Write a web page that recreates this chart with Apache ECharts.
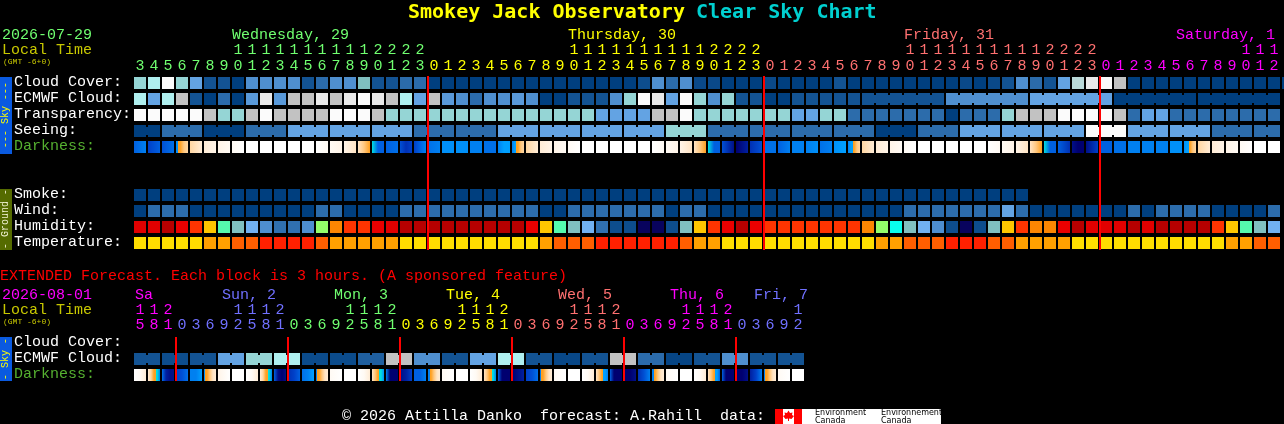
<!DOCTYPE html>
<html><head><meta charset="utf-8">
<style>html,body{margin:0;padding:0;background:#000}#c{width:1284px;height:424px}</style>
<script src="https://cdn.jsdelivr.net/npm/echarts@6/dist/echarts.min.js"></script>
</head><body><div id="c"></div>
<script>
// ---------- tick labels ----------
const skyUnits = '345678901234567890123012345678901234567890123012345678901234567890123' .split('').concat('0123456789012'.split(''));
const skyTens  = '       11111111112222          11111111112222          11111111112222          111'.split('');
const extUnits = '581036925810369258103692581036925810369258103692'.split('');
const extTens  = '112    1112    1112    1112    1112    1112    1'.split('');
const skyDayStarts = [0,21,45,69];
const skyDayColors = ['#70ff70','#ffff00','#ff7070','#ff00ff'];
const extDayStarts = [0,3,11,19,27,35,43];
const extDayColors = ['#ff00ff','#7070ff','#70ff70','#ffff00','#ff7070','#ff00ff','#7070ff'];
const skyRows = ['Cloud Cover:','ECMWF Cloud:','Transparency:','Seeing:','Darkness:'];
const groundRows = ['Smoke:','Wind:','Humidity:','Temperature:'];
const extRows = ['Cloud Cover:','ECMWF Cloud:','Darkness:'];
const skyMidnights = [21,45,69];
const extMidnights = [3,11,19,27,35,43];

// ---------- series values (palette levels) ----------
const cloudCover = [6,7,10,6,4,1,1,0,3,3,3,3,1,2,3,3,5,1,1,2,2,
  0,0,0,0,0,0,0,0,0,0,0,0,0,0,0,.7,3,2,3,.5,.5,0,0,0,.5,0,0,0,0,1,0,
  0,0,0,0,0,0,0,.5,0,.5,1,3,2,1,4,7.5,9,10,8,0,0,0,0,0,0,0,0,0,0,0,0];
const ecmwfCloud = [7,4,7,8,1,0,2,0,3.5,9,3.5,8,8,9,8,9,10,9,8,7,4,
  8,3.5,3,2,3,3,3.5,3,0,0,1,1,1,3,6,10,9,4,10,6,3,6,1,1,0,0,1,1,1,1,1,
  1,1,1,1,1,1,3,3,3,3,3,3,4,4,4,4,4,4,0,0,0,0,0,0,0,0,0,0,0,0];
const ecmwfBlocks = [1,1,1,1,1,1,1,1,1,1,1,1,1,1,1,1,1,1,1,1,1,1,1,1,1,1,1,1,1,1,1,1,1,1,1,1,1,1,1,1,1,1,1,1,1,1,1,1,1,1,1,1,6,6,6,6,6];
const transparency = [5,5,5,5,5,4,3,3,4,5,4,4,4,4,5,5,5,4,3,3,3,
  3,3,3,3,3,3,3,3,3,3,3,3,2,2,2,2,4,4,5,3,3,3,3,3,3,3,2,2,3,3,1,
  1,1,1,1,1,1,0,1,1,1,3,4,4,4,5,5,5,5,4,1,2,2,1,1,1,1,1,1,1,1];
const seeing = [0,0,1,1,1,0,0,0,1,1,1,2,2,2,2,2,2,2,2,2,1,
  1,1,1,1,1,2,2,2,2,2,2,2,2,2,2,2,2,3,3,3,1,1,1,1,1,1,1,1,1,1,1,
  1,0,0,0,1,1,1,2,2,2,2,2,2,2,2,2,5,5,5,2,2,2,2,2,2,1,1,1,1,1];
const seeingBlocks = [2,3,3,3,3,3,3,3,3,3,3,3,3,3,3,3,3,3,3,3,3,3,3,3,3,3,3,2];
const darkness = [
 [8,7],[9,8],[8.5,7.5],[6.5,4,3,2.5],[2.5,1.5],[1.5,1],[1,.5],[.5,0],[0,0],[0,0],[0,0],[0,0],[0,0],[0,.5],[.5,1],[1,2],[2,3,4],[5,8,8],[8,7.5],[8.5,9.5,9],[9,8,7],
 [7.5,7],[6.5,6.5],[6.5,6.5],[7,7],[7.5,7.5],[7,6,6],[7,6,4,3,2.5],[2.5,1.5],[1.5,1],[1,.5],[.5,0],[0,0],[0,0],[0,0],[0,0],[0,0],[0,.5],[.5,1],[1,2],[2,3,4],[5,8,8],[8.5,10.5],[11,10],[9.5,8.5],[7.5,7.5],[8,7],[7,7],[7,6.5],[7.5,7],[6.5,6],[7,6,4,3,2.5],
 [2.5,1.5],[1.5,1],[1,.5],[.5,0],[0,0],[0,0],[0,0],[0,0],[0,0],[0,.5],[.5,1],[1,2],[2,3,4],[5,8,8],[8,9.5],[10.5,11,11],[10.5,9],[8,8],[7.5,7.5],[7,7],[7,7],[7,7],[6.5,6.5],[6.5,6,4,3,2.5],[2.5,1.5],[1.5,1],[1,.5],[.5,0],[0,0],[0,0]
];
const smoke = [0,0,0,0,0,0,0,0,0,0,0,0,0,0,0,0,0,0,0,0,0,0,0,0,0,0,0,0,0,0,0,0,0,0,0,0,0,0,0,0,0,0,0,0,0,0,0,0,0,0,0,0,0,0,0,0,0,0,0,0,0,0,0,0];
const wind = [0,1,1,1,0,0,0,0,0,0,0,0,0,1,1,0,0,0,0,1,1,
  1,1,1,1,1,1,1,1,0,0,1,1,1,1,1,1,1,0,1,1,0,0,0,0,0,0,0,0,0,0,0,
  0,0,0,1,1,1,1,1,1,1,2,1,0,0,0,0,0,0,0,1,0,1,1,1,1,0,0,0,0,1];
const humidity = [15,15,14,13,12,10,7,5,4,3,2,2,3,8,11,12,12,13,15,14,14,
  14,14,14,14,14,14,14,13,10,7,5,4,2,1,1,0,0,1,5,10,12,13,14,13,12,12,12,12,12,12,12,
  11,8,6,5,4,3,1,0,1,5,10,12,11,11,13,14,15,15,15,14,15,14,14,14,14,12,10,7,5,4];
const temperature = [0,0,0,0,0,1,1,2,2,3,3,3,3,2,1,1,1,1,1,0,0,
  0,0,0,0,0,0,0,0,1,2,2,2,3,3,3,3,3,3,2,1,1,0,0,0,0,0,0,0,0,0,0,
  0,1,1,2,2,2,3,3,3,2,2,1,1,1,1,0,0,0,0,0,0,0,0,0,0,0,1,1,2,2];
const extCloud = [];
const extEcmwf = [1,1,.7,.7,1,1,4,4,6,6,7,7,.6,.6,.6,.6,1.5,1.5,8,8,3,3,1,1,4,4,7,7,1,1,.4,.4,1,1,8,8,2,2,.3,.3,1,1,3,3,1,1,1,1];
const extBlocks = [2,2,2,2,2,2,2,2,2,2,2,2,2,2,2,2,2,2,2,2,2,2,2,2];
const extDarkness = [
 [0,.5,1.5],[1.5,2.5,4,5,7],[7.5,10,10.5,10.5],[9,8.5,7.5],[7,7,6],[6.5,4,3,2,1.5],[1,0],[0,0],
 [0,.5,1.5],[1.5,2.5,4,5,7],[8,10.5,11,10.5],[9.5,9,8],[7.5,7,6],[7,4,3,2,1.5],[.5,0],[0,0],
 [0,.5,1.5],[2,3,4,5,6.5],[7,11,11,11],[10.5,10,9],[8,8,7],[7,4,3,2,1.5],[.5,0],[0,0],
 [0,.5,1.5],[2,3,4,5,7],[8,11,11,11],[11,10.5,10],[9,8.5,7.5],[7,4,3,2,1.5],[.5,0],[0,0],
 [0,.5,1.5],[2,3,4,6,7],[8,11,11,11],[11,11,10.5],[9.5,8.5,7],[7,4,3,2,1.5],[.5,0],[0,0],
 [0,.5,1.5],[2,3,4,6,8],[8,11,11,11],[11,11,10.5],[10,9,7],[7,4,3,2,1.5],[.5,0],[0,0]
];

// ---------- palettes ----------
const cloudPal = ['#003f7f','#135393','#2b6bab','#4f8fcf','#63a3e3','#7fbfbf','#95d5d5','#afefef','#c2c2c2','#e9e9e9','#fbfbfb'];
const ratePal  = ['#003f7f','#2c6cab','#63a3e3','#95d5d5','#c2c2c2','#fbfbfb'];
const humidPal = ['#08035d','#0d4d8d','#3070b0','#4e8ed0','#71b1f1','#80c0c0','#09feed','#55faad','#94fe6a','#eafb16','#fec600','#fc8602','#fe3401','#ea0000','#b70000','#e10000'];
const tempPal  = ['#ffdd00','#ffa000','#ff5e00','#ff2000'];
const darkPal  = ['#ffffff','#fff4e8','#ffe4c4','#ffc880','#ffa020','#00e0e0','#00a0ff','#0080f0','#0060e0','#0040c8','#0020a0','#000070'];

const mono = '"Liberation Mono"';
const lerp = (pal, v) => {
  const a = Math.floor(v), b = Math.min(pal.length - 1, a + 1);
  return a === v ? pal[a] : echarts.color.lerp(v - a, [pal[a], pal[b]]);
};
const linkFlags = blocks => {
  const out = [];
  blocks.forEach(n => { for (let k = 0; k < n; k++) out.push(k < n - 1 ? 1 : 0); });
  return out;
};
const cellRect = (api, i, r) => {
  const c = api.coord([i, r]), s = api.size([1, 1]);
  return { x: c[0] - s[0] / 2 + 1, y: c[1] - s[1] / 2 + 2, width: s[0] - 2, height: s[1] - 4 };
};
const cellSeries = (grid, row, values, pal, blocks) => {
  const links = blocks ? linkFlags(blocks) : [];
  return {
    type: 'custom', xAxisIndex: grid.x, yAxisIndex: grid.y, silent: true, animation: false,
    data: values.map((v, i) => [i, row, v, links[i] || 0]),
    renderItem: (p, api) => {
      const rect = cellRect(api, api.value(0), api.value(1));
      const fill = lerp(pal, api.value(2));
      const children = [{ type: 'rect', shape: rect, style: { fill } }];
      if (api.value(3)) children.push({ type: 'rect',
        shape: { x: rect.x + rect.width, y: rect.y + 2, width: 2, height: rect.height - 4 }, style: { fill } });
      return { type: 'group', children };
    }
  };
};
const darkSeries = (grid, row, values) => ({
  type: 'custom', xAxisIndex: grid.x, yAxisIndex: grid.y, silent: true, animation: false,
  data: values.map((v, i) => [i, row]),
  renderItem: (p, api) => {
    const i = api.value(0), lv = values[i], stops = [];
    lv.forEach((v, j) => {
      const pos = j / (lv.length - 1);
      if (j > 0 && (lv[j - 1] <= 4) !== (v <= 4)) {
        const mid = (j - .5) / (lv.length - 1);
        stops.push({ offset: mid, color: lerp(darkPal, lv[j - 1]) }, { offset: mid, color: lerp(darkPal, v) });
      }
      stops.push({ offset: pos, color: lerp(darkPal, v) });
    });
    return { type: 'rect', shape: cellRect(api, i, api.value(1)),
      style: { fill: new echarts.graphic.LinearGradient(0, 0, 1, 0, stops) } };
  }
});
const lineSeries = (grid, values) => ({
  type: 'custom', xAxisIndex: grid.x, yAxisIndex: grid.y, silent: true, animation: false, z: 100,
  data: values.map(v => [v]),
  renderItem: (p, api) => {
    const c = api.coord([api.value(0), 1]), s = api.size([0, 1]);
    return { type: 'rect', z2: 100, shape: { x: c[0], y: c[1], width: 2, height: s[1] }, style: { fill: '#ff0000', stroke: null } };
  }
});

const colorOf = (starts, colors) => (v, i) => {
  let d = 0; starts.forEach((s, k) => { if (i >= s) d = k; }); return colors[d];
};
const hourAxis = (gridIndex, labels, offset, starts, colors, margin) => ({
  type: 'category', gridIndex, position: 'top', offset,
  data: labels.map((t, i) => ({ value: t + '#' + i })),
  axisLine: { show: false }, axisTick: { show: false }, splitLine: { show: false },
  axisLabel: { interval: 0, margin, hideOverlap: false, fontFamily: mono, fontSize: 15,
    formatter: (v) => v.split('#')[0].trim(), color: colorOf(starts, colors) }
});
const rowAxis = (gridIndex, rows) => ({
  type: 'category', gridIndex, inverse: true, data: rows,
  axisLine: { show: false }, axisTick: { show: false }, splitLine: { show: false },
  axisLabel: { interval: 0, align: 'left', margin: 119, fontFamily: mono, fontSize: 15, verticalAlign: 'bottom', lineHeight: 1,
    color: v => v === 'Darkness:' ? '#55b030' : '#ffffff' }
});
const hiddenX = (gridIndex, max) => ({ type: 'value', gridIndex, min: 0, max, show: false, splitLine: { show: false } });
const hiddenY = (gridIndex) => ({ type: 'value', gridIndex, min: 0, max: 1, show: false, splitLine: { show: false } });

const text = (x, y, t, fill, font) => ({ type: 'text', x, y, silent: true, z: 10,
  style: { text: t, fill, font: font || `15px ${mono}`, verticalAlign: 'middle', align: 'left' } });
const vtext = (x, y, t, fill) => ({ type: 'text', x, y, rotation: Math.PI / 2, silent: true, z: 10,
  style: { text: t, fill, font: `10px ${mono}`, verticalAlign: 'middle', align: 'center' } });
const box = (x, y, width, height, fill) => ({ type: 'rect', silent: true, z: 9, shape: { x, y, width, height }, style: { fill } });

const skyG = { x: 0, y: 0 }, groundG = { x: 2, y: 1 }, extG = { x: 3, y: 2 }, lineG = { x: 5, y: 3 }, extLineG = { x: 6, y: 4 };

const option = {
  backgroundColor: '#000',
  animation: false,
  grid: [
    { left: 133, top: 75, width: 1148, height: 80 },
    { left: 133, top: 187, width: 1148, height: 64 },
    { left: 133, top: 335, width: 672, height: 48 },
    { left: 133, top: 76, width: 1148, height: 174 },
    { left: 133, top: 337, width: 672, height: 44 }
  ],
  xAxis: [
    hourAxis(0, skyUnits, 0, skyDayStarts, skyDayColors, 1),
    hourAxis(0, skyTens, 16, skyDayStarts, skyDayColors, 1),
    { type: 'category', gridIndex: 1, data: smoke.concat(new Array(18).fill(0)).map((v, i) => i), show: false },
    hourAxis(2, extUnits, 0, extDayStarts, extDayColors, 2),
    hourAxis(2, extTens, 15, extDayStarts, extDayColors, 2),
    hiddenX(3, 82),
    hiddenX(4, 48)
  ],
  yAxis: [
    rowAxis(0, skyRows),
    rowAxis(1, groundRows),
    rowAxis(2, extRows),
    hiddenY(3),
    hiddenY(4)
  ],
  series: [
    cellSeries(skyG, 0, cloudCover, cloudPal),
    cellSeries(skyG, 1, ecmwfCloud, cloudPal, ecmwfBlocks),
    cellSeries(skyG, 2, transparency, ratePal),
    cellSeries(skyG, 3, seeing, ratePal, seeingBlocks),
    darkSeries(skyG, 4, darkness),
    cellSeries(groundG, 0, smoke, cloudPal),
    cellSeries(groundG, 1, wind, ratePal),
    cellSeries(groundG, 2, humidity, humidPal),
    cellSeries(groundG, 3, temperature, tempPal),
    cellSeries(extG, 0, extCloud, cloudPal),
    cellSeries(extG, 1, extEcmwf, cloudPal, extBlocks),
    darkSeries(extG, 2, extDarkness),
    lineSeries(lineG, skyMidnights),
    lineSeries(extLineG, extMidnights)
  ],
  graphic: { elements: [
    text(408, 13, 'Smokey Jack Observatory', '#ffff00', `bold 20px "DejaVu Sans Mono"`),
    text(696, 13, 'Clear Sky Chart', '#00d0d0', `bold 20px "DejaVu Sans Mono"`),
    text(2, 35, '2026-07-29', '#70ff70'),
    text(2, 50, 'Local Time', '#c8c800'),
    text(3, 62, '(GMT -6+0)', '#c8c800', `8px ${mono}`),
    text(232, 35, 'Wednesday, 29', '#70ff70'),
    text(568, 35, 'Thursday, 30', '#ffff00'),
    text(904, 35, 'Friday, 31', '#ff7070'),
    text(1176, 35, 'Saturday, 1', '#ff00ff'),
    text(0, 276, 'EXTENDED Forecast. Each block is 3 hours. (A sponsored feature)', '#ff0000'),
    text(2, 295, '2026-08-01', '#ff00ff'),
    text(2, 310, 'Local Time', '#c8c800'),
    text(3, 322, '(GMT -6+0)', '#c8c800', `8px ${mono}`),
    text(135, 295, 'Sa', '#ff00ff'),
    text(222, 295, 'Sun, 2', '#7070ff'),
    text(334, 295, 'Mon, 3', '#70ff70'),
    text(446, 295, 'Tue, 4', '#ffff00'),
    text(558, 295, 'Wed, 5', '#ff7070'),
    text(670, 295, 'Thu, 6', '#ff00ff'),
    text(754, 295, 'Fri, 7', '#7070ff'),
    box(0, 77, 12, 77, '#0a5ae0'),
    vtext(5, 115, '--- Sky ---', '#ffff00'),
    box(0, 189, 12, 61, '#556b00'),
    vtext(5, 219, '- Ground -', '#f0f0d0'),
    box(0, 337, 12, 44, '#0a5ae0'),
    vtext(5, 359, '- Sky -', '#ffff00'),
    text(342, 416, '© 2026 Attilla Danko  forecast: A.Rahill  data:', '#ffffff'),
    box(775, 409, 166, 15, '#ffffff'),
    box(775, 409, 8, 15, '#ff0000'),
    box(794, 409, 8, 15, '#ff0000'),
    { type: 'polygon', silent: true, z: 10, shape: { points: [[788.5,410.5],[790,413],[792.5,412.5],[792,415],[794,416],[791.5,419],[789,418.5],[789,421],[788,421],[788,418.5],[785.5,419],[783,416],[785,415],[784.5,412.5],[787,413]] }, style: { fill: '#ff0000' } },
    text(815, 413, 'Environment', '#000000', `8px "DejaVu Sans"`),
    text(815, 421, 'Canada', '#000000', `8px "DejaVu Sans"`),
    text(881, 413, 'Environnement', '#000000', `8px "DejaVu Sans"`),
    text(881, 421, 'Canada', '#000000', `8px "DejaVu Sans"`)
  ] }
};
const chart = echarts.init(document.getElementById('c'), null, { width: 1284, height: 424 });
chart.setOption(option);
</script></body></html>
